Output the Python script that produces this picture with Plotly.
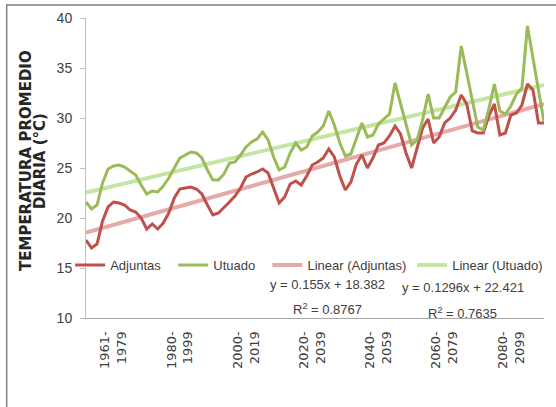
import numpy as np
import plotly.graph_objects as go

# 20-year periods, 12 monthly means each
periods = ["1961-1979", "1980-1999", "2000-2019", "2020-2039",
           "2040-2059", "2060-2079", "2080-2099"]

# Mean daily temperature (°C), month by month across the periods
adjuntas = [
    17.8, 17.0, 17.4, 19.7, 21.1, 21.6, 21.5, 21.3, 20.8, 20.6, 20.0, 18.9,
    19.4, 18.9, 19.5, 20.5, 22.0, 22.9, 23.0, 23.1, 22.9, 22.4, 21.3, 20.3,
    20.5, 21.0, 21.6, 22.2, 23.0, 24.1, 24.4, 24.6, 24.9, 24.5, 23.0, 21.5,
    22.1, 23.4, 23.7, 23.3, 24.2, 25.3, 25.6, 26.0, 26.9, 26.1, 24.2, 22.8,
    23.6, 25.4, 26.3, 25.0, 26.0, 27.3, 27.5, 28.2, 29.2, 28.4, 26.5, 25.0,
    27.0, 29.0, 29.9, 27.5, 28.1, 29.5, 30.0, 30.8, 32.3, 31.4, 28.7, 28.5,
    28.5, 30.2, 31.4, 28.3, 28.5, 30.3, 30.5, 31.3, 33.4, 32.8, 29.5, 29.5,
]
utuado = [
    21.6, 20.9, 21.3, 23.5, 24.9, 25.2, 25.3, 25.1, 24.7, 24.3, 23.3, 22.4,
    22.7, 22.6, 23.2, 24.0, 25.0, 26.0, 26.3, 26.6, 26.5, 26.0, 24.8, 23.8,
    23.8, 24.4, 25.5, 25.6, 26.3, 27.1, 27.6, 27.9, 28.6, 27.8, 26.1, 24.8,
    25.1, 26.5, 27.5, 26.8, 27.1, 28.2, 28.6, 29.2, 30.7, 29.3, 27.5, 26.2,
    26.4, 28.0, 29.5, 28.1, 28.3, 29.4, 29.9, 30.4, 33.5, 31.5, 29.4, 27.3,
    27.8, 29.8, 32.4, 30.0, 30.0, 31.1, 32.1, 32.6, 37.2, 34.5, 31.8, 29.1,
    28.8, 30.9, 33.4, 30.7, 30.4, 31.2, 32.4, 33.0, 39.2, 36.0, 32.8, 29.6,
]

# Linear trend coefficients (slope, intercept, R²)
adj_slope, adj_icpt, adj_r2 = 0.155, 18.382, 0.8767
utu_slope, utu_icpt, utu_r2 = 0.1296, 22.421, 0.7635

x = np.arange(1, len(adjuntas) + 1)
months_per_period = 12
tick_pos = [k * months_per_period + 6.0 for k in range(len(periods))]
tick_txt = [p.replace("-", "-<br>") for p in periods]

W, H = 556, 407
L, R, T, B = 86, 8, 18, 89
PW, PH = W - L - R, H - T - B


def px_x(px):
    return (px - L) / PW


def px_y(py):
    return (H - B - py) / PH


SANS = "Liberation Sans, Arial, sans-serif"
TXT = "#404040"

fig = go.Figure()

fig.add_trace(go.Scatter(
    x=x, y=adj_slope * x + adj_icpt, mode="lines", name="Linear (Adjuntas)",
    line=dict(color="#E5AAA9", width=4), legend="legend3"))
fig.add_trace(go.Scatter(
    x=x, y=utu_slope * x + utu_icpt, mode="lines", name="Linear (Utuado)",
    line=dict(color="#C5E5A3", width=4), legend="legend4"))
fig.add_trace(go.Scatter(
    x=x, y=adjuntas, mode="lines", name="Adjuntas",
    line=dict(color="#C0504D", width=3), legend="legend"))
fig.add_trace(go.Scatter(
    x=x, y=utuado, mode="lines", name="Utuado",
    line=dict(color="#9BBB59", width=3), legend="legend2"))

leg_common = dict(bgcolor="rgba(0,0,0,0)", borderwidth=0,
                  font=dict(family=SANS, size=13, color=TXT),
                  xanchor="left", yanchor="middle", y=px_y(265),
                  orientation="h", traceorder="normal")
leg_text_start = [108, 212, 307, 453]

fig.update_layout(
    width=W, height=H,
    margin=dict(l=L, r=R, t=T, b=B, pad=0),
    paper_bgcolor="white", plot_bgcolor="white",
    showlegend=True,
    legend=dict(x=px_x(leg_text_start[0] - 38), **leg_common),
    legend2=dict(x=px_x(leg_text_start[1] - 38), **leg_common),
    legend3=dict(x=px_x(leg_text_start[2] - 38), **leg_common),
    legend4=dict(x=px_x(leg_text_start[3] - 38), **leg_common),
    xaxis=dict(
        range=[1, len(adjuntas)], showgrid=False, zeroline=False,
        showline=True, linecolor="#A6A6A6", linewidth=1,
        ticks="", tickmode="array", tickvals=tick_pos, ticktext=tick_txt,
        tickangle=-90, ticklabelstandoff=7,
        tickfont=dict(family="DejaVu Sans", size=13, color=TXT),
    ),
    yaxis=dict(
        range=[10, 40], dtick=5, showgrid=False, zeroline=False,
        showline=True, linecolor="#BFBFBF", linewidth=1,
        ticks="outside", ticklen=5, tickcolor="#BFBFBF",
        ticklabelstandoff=5,
        tickfont=dict(family=SANS, size=14, color=TXT),
    ),
)

# Axis title, two rotated lines
for line_txt, cx in (("TEMPERATURA PROMEDIO", 25.5), ("DIARIA (°C)", 39.5)):
    fig.add_annotation(
        text=line_txt, xref="paper", yref="paper",
        x=px_x(cx), y=px_y(161), xanchor="center", yanchor="middle",
        textangle=-90, showarrow=False,
        font=dict(family="DejaVu Sans", size=15, color="#262626", weight="bold"))

# Trend equations
eqs = [
    (f"y = {adj_slope}x + {adj_icpt}", 330, 284),
    (f"R<sup>2</sup> = {adj_r2}", 330, 309),
    (f"y = {utu_slope}x + {utu_icpt}", 466, 287.5),
    (f"R<sup>2</sup> = {utu_r2}", 466, 312.5),
]
for txt, cx, cy in eqs:
    fig.add_annotation(
        text=txt, xref="paper", yref="paper", x=px_x(cx), y=px_y(cy),
        xanchor="center", yanchor="middle", showarrow=False,
        font=dict(family=SANS, size=13, color=TXT))

# Chart-area frame
fig.add_shape(type="rect", xref="paper", yref="paper",
              x0=px_x(6), x1=px_x(W + 20), y0=px_y(H + 20), y1=px_y(5),
              line=dict(color="#808080", width=1.5), layer="below")

fig.write_html("out.html")
